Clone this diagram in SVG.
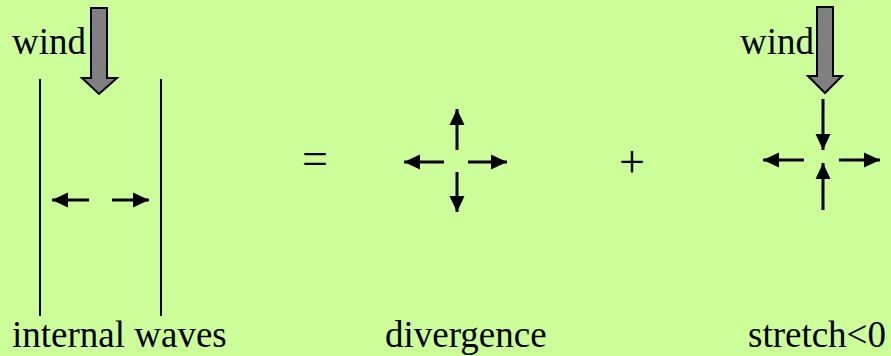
<svg xmlns="http://www.w3.org/2000/svg" width="891" height="356" viewBox="0 0 891 356">
<style>
.t{font-family:"Liberation Serif","Times New Roman",serif;font-size:37px;fill:#000}
.op{font-family:"Liberation Serif","Times New Roman",serif;font-size:46px;fill:#000}
.a{stroke:#000;stroke-width:3;fill:none;marker-end:url(#ah)}
.w{fill:#808080;stroke:#000;stroke-width:2;stroke-linejoin:miter}
.v{stroke:#000;stroke-width:2}
</style>
<defs>
<marker id="ah" markerUnits="userSpaceOnUse" markerWidth="17" markerHeight="17" viewBox="0 0 17 17" refX="16" refY="8.5" orient="auto">
<path d="M0,1 L16,8.5 L0,16 Z" fill="#000"/>
</marker>
</defs>
<rect width="891" height="356" fill="#CCFF99"/>
<g id="internal-waves">
<text class="t" x="12" y="54">wind</text>
<polygon class="w" points="91,8 107,8 107,78 117,78 99,94 82,78 91,78"/>
<line class="v" x1="40" y1="79" x2="40" y2="316"/>
<line class="v" x1="161" y1="79" x2="161" y2="316"/>
<text class="t" x="12" y="347">internal waves</text>
</g>
<g id="equals"><text class="op" x="315" y="174" text-anchor="middle">=</text></g>
<g id="divergence">
<text class="t" x="385" y="347">divergence</text>
</g>
<g id="plus"><text class="op" x="632" y="177" text-anchor="middle">+</text></g>
<g id="stretch">
<text class="t" x="740" y="54">wind</text>
<polygon class="w" points="817,7 833,7 833,76 842,76 825,93 808,76 817,76"/>
<text class="t" x="748" y="347">stretch&lt;0</text>
</g>
<g id="connectors">
<line class="a" x1="89" y1="200" x2="52" y2="200"/>
<line class="a" x1="112" y1="200" x2="149" y2="200"/>
<line class="a" x1="457" y1="150" x2="457" y2="109"/>
<line class="a" x1="444" y1="162" x2="404" y2="162"/>
<line class="a" x1="468" y1="162" x2="507" y2="162"/>
<line class="a" x1="457" y1="172" x2="457" y2="212"/>
<line class="a" x1="823" y1="99" x2="823" y2="150"/>
<line class="a" x1="804" y1="160" x2="763" y2="160"/>
<line class="a" x1="839" y1="160" x2="880" y2="160"/>
<line class="a" x1="823" y1="210" x2="823" y2="163"/>
</g>
</svg>
